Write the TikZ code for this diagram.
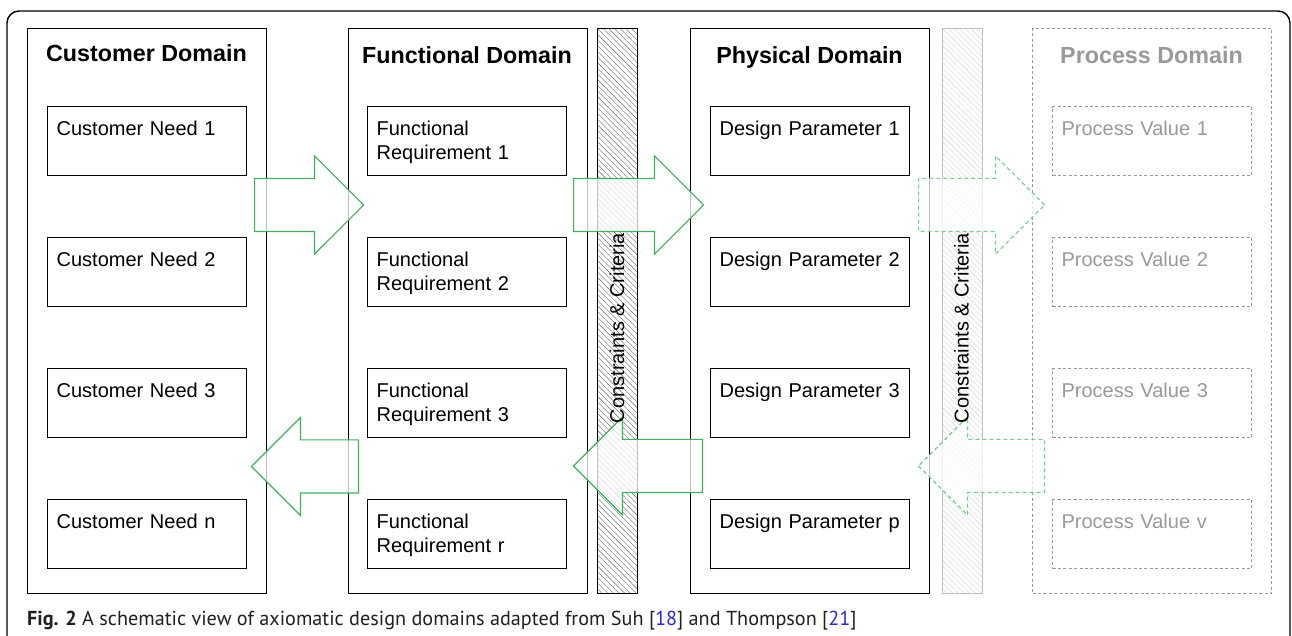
\documentclass[tikz,border=0pt]{standalone}
\usepackage{fontspec}
\setmainfont{Liberation Sans}
\newfontfamily\capfont{PT Sans}
\usepackage{xcolor}
\usetikzlibrary{shapes.arrows,patterns.meta,positioning}

\definecolor{arrowgreen}{RGB}{60,180,90}
\definecolor{palegreen}{RGB}{110,210,140}
\definecolor{procgray}{RGB}{153,153,153}
\definecolor{bargray}{RGB}{190,190,190}
\definecolor{captext}{RGB}{35,31,32}
\definecolor{citeblue}{RGB}{40,40,230}

\newcommand{\refnum}[1]{[\textcolor{citeblue}{#1}]}

\begin{document}
\begin{tikzpicture}[x=0.5pt, y=-0.5pt,
        outerframe/.style={draw, line width=0.7pt, rounded corners=6pt},
        domainbox/.style={rectangle, draw, line width=0.65pt, anchor=north west, inner sep=0pt,
            minimum width=119.5pt, minimum height=282.5pt},
        domtitle/.style={anchor=base, font=\fontsize{11.65}{14}\selectfont\bfseries},
        entry/.style={rectangle, draw, line width=0.65pt, anchor=north west, align=left,
            inner xsep=4.5pt, inner ysep=0pt, text width=90.5pt,
            text height=14.5pt, text depth=20pt, font=\fontsize{10}{12}\selectfont},
        ghost/.style={draw=procgray, text=procgray, line width=0.55pt, dash pattern=on 1.5pt off 1.2pt},
        hatchbar/.style={rectangle, draw, line width=0.65pt, anchor=north west, inner sep=0pt,
            minimum width=20pt, minimum height=282.5pt,
            pattern={Lines[angle=-45, distance=2pt, line width=0.2pt]}},
        barlabel/.style={rotate=90, font=\fontsize{10}{12}\selectfont},
        bigarrow/.style={single arrow, draw=arrowgreen, line width=0.6pt, fill=white, fill opacity=0.75,
            minimum width=48.5pt, single arrow head extend=11.25pt,
            inner xsep=0pt, inner ysep=13pt, anchor=tail},
        dasharrow/.style={bigarrow, draw=palegreen, dash pattern=on 2pt off 1.5pt},
        figcaption/.style={anchor=base west, text=captext, font=\capfont\fontsize{10.1}{12}\selectfont}
    ]
        \useasboundingbox (0,0) rectangle (1292,636);
        \clip (0,0) rectangle (1292,636);
        \draw[outerframe] (7,11) rectangle (1290,700);

        % domains
        \node[domainbox] (cd) at (27,28) {};
        \node[domainbox] (fd) at (347.5,28) {};
        \node[domainbox] (pd) at (690,28) {};
        \node[domainbox, ghost] (prd) at (1032,28) {};

        \node[domtitle] (cdt) at (146.5,62) {Customer Domain};
        \node[domtitle] (fdt) at (467,63.5) {Functional Domain};
        \node[domtitle] (pdt) at (809.5,63.5) {Physical Domain};
        \node[domtitle, text=procgray] (prdt) at (1151.5,64) {Process Domain};

        % constraint bars
        \node[hatchbar, pattern color=black!60] (cc1) at (597,28) {};
        \node[hatchbar, draw=bargray, pattern color=gray!35] (cc2) at (941.5,28) {};

        % customer needs
        \node[entry] (cn1) at (47,106) {Customer Need 1};
        \node[entry] (cn2) at (47,237) {Customer Need 2};
        \node[entry] (cn3) at (47,368) {Customer Need 3};
        \node[entry] (cnn) at (47,499) {Customer Need n};

        % functional requirements
        \node[entry] (fr1) at (367,106) {Functional\\Requirement 1};
        \node[entry] (fr2) at (367,237) {Functional\\Requirement 2};
        \node[entry] (fr3) at (367,368) {Functional\\Requirement 3};
        \node[entry] (frr) at (367,499) {Functional\\Requirement r};

        % design parameters
        \node[entry] (dp1) at (710,106) {Design Parameter 1};
        \node[entry] (dp2) at (710,237) {Design Parameter 2};
        \node[entry] (dp3) at (710,368) {Design Parameter 3};
        \node[entry] (dpp) at (710,499) {Design Parameter p};

        % process values
        \node[entry, ghost] (pv1) at (1052,106) {Process Value 1};
        \node[entry, ghost] (pv2) at (1052,237) {Process Value 2};
        \node[entry, ghost] (pv3) at (1052,368) {Process Value 3};
        \node[entry, ghost] (pvv) at (1052,499) {Process Value v};

        % mapping arrows
        \node[bigarrow, minimum height=54.5pt] (a1) at (254,205) {};
        \node[bigarrow, minimum height=53.5pt, shape border rotate=180] (a2) at (359,466.5) {};
        \node[bigarrow, minimum height=65pt] (a3) at (573,205) {};
        \node[bigarrow, minimum height=64.5pt, shape border rotate=180] (a4) at (703,466) {};
        \node[dasharrow, minimum height=63pt] (a5) at (918,205) {};
        \node[dasharrow, minimum height=63pt, shape border rotate=180] (a6) at (1045,466) {};

        \node[barlabel] (cc1l) at (617,328) {Constraints \& Criteria};
        \node[barlabel] (cc2l) at (961.5,328) {Constraints \& Criteria};

        \node[figcaption] (cap) at (20,625) {\textbf{Fig. 2} A schematic view of axiomatic design domains adapted from Suh \refnum{18} and Thompson \refnum{21}};
    \end{tikzpicture}
\end{document}
